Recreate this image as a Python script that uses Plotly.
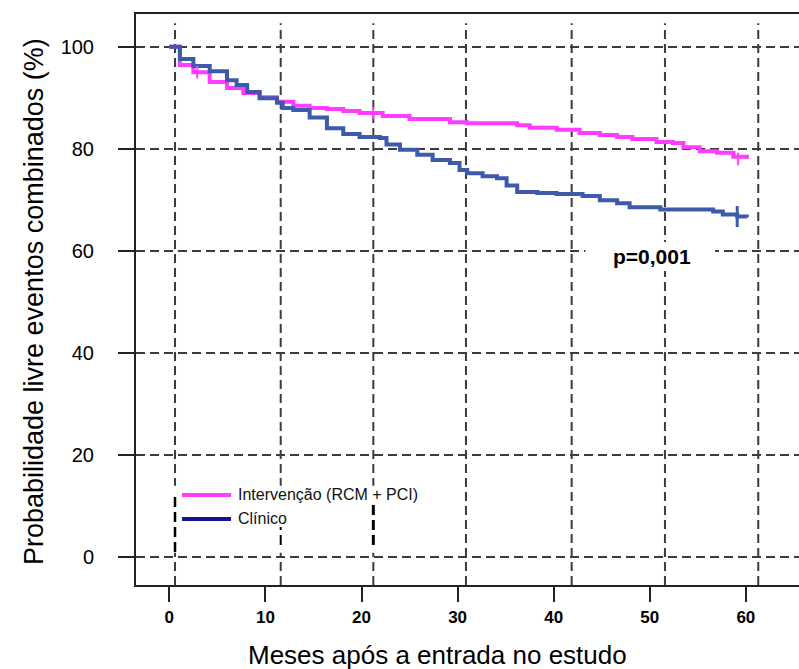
import plotly.graph_objects as go

# ---------------- data ----------------
interv_t = [0, 1.1, 2.5, 4.2, 6.0, 7.7, 9.4, 11.2, 12.9, 14.6, 16.4, 18.1, 19.8, 22.2,
            25.0, 29.2, 31.0, 36.2, 37.5, 40.3, 42.7, 44.8, 46.6, 48.2, 50.7, 52.4,
            53.5, 55.2, 57.0, 58.7, 60.1]
interv_s = [100, 96.4, 95.0, 93.1, 91.9, 90.9, 90.1, 89.2, 88.4, 88.0, 87.8, 87.4, 87.0,
            86.4, 85.8, 85.2, 85.0, 84.6, 84.1, 83.7, 83.1, 82.7, 82.3, 81.9, 81.3,
            81.1, 80.3, 79.5, 79.2, 78.4, 78.0]

clin_t = [0, 1.1, 2.5, 4.2, 6.0, 7.0, 8.1, 9.4, 11.2, 11.8, 12.9, 14.6, 16.4, 18.1,
          19.8, 21.9, 22.6, 24.0, 25.8, 27.4, 29.2, 30.2, 31.0, 32.6, 34.1, 35.1,
          36.2, 38.3, 40.3, 43.0, 44.8, 46.6, 47.9, 51.1, 56.6, 57.6, 59.1, 60.1]
clin_s = [100, 97.6, 96.2, 95.2, 93.4, 92.5, 91.1, 89.9, 89.0, 88.0, 87.6, 86.1, 84.0,
          82.9, 82.3, 82.1, 80.8, 79.8, 78.8, 77.8, 77.2, 75.8, 75.2, 74.6, 74.2, 72.8,
          71.5, 71.3, 71.1, 70.7, 69.9, 69.3, 68.5, 68.1, 67.7, 67.1, 66.7, 66.5]

interv_cens_t = [2.9, 21.2, 59.2]
interv_cens_s = [95.0, 87.0, 78.0]
clin_cens_t = [59.1]
clin_cens_s = [66.7]

x_ticks = [0, 10, 20, 30, 40, 50, 60]
y_ticks = [0, 20, 40, 60, 80, 100]

series_names = ["Intervenção (RCM + PCI)", "Clínico"]
x_title = "Meses após a entrada no estudo"
y_title = "Probabilidade livre eventos combinados (%)"
p_text = "p=0,001"

# ---------------- styling ----------------
PINK = "#FF3CFF"
BLUE = "#3D5AAB"
NAVY = "#14148C"
GRID = "#3c3c3c"
DASH = "9px,5px"

fig = go.Figure()
fig.add_trace(go.Scatter(x=interv_t, y=interv_s, mode="lines", line_shape="hv",
                         line=dict(color=PINK, width=4), showlegend=False,
                         name=series_names[0]))
fig.add_trace(go.Scatter(x=clin_t, y=clin_s, mode="lines", line_shape="hv",
                         line=dict(color=BLUE, width=4), showlegend=False,
                         name=series_names[1]))
fig.add_trace(go.Scatter(x=interv_cens_t, y=interv_cens_s, mode="markers",
                         marker=dict(symbol="line-ns", size=9,
                                     line=dict(color=PINK, width=2)),
                         showlegend=False, hoverinfo="skip"))
fig.add_trace(go.Scatter(x=clin_cens_t, y=clin_cens_s, mode="markers",
                         marker=dict(symbol="line-ns", size=15,
                                     line=dict(color=BLUE, width=3)),
                         showlegend=False, hoverinfo="skip"))

shapes = []
# vertical dashed grid (offset from ticks as in the reference)
vgrid_x = [0.59, 11.59, 21.23, 30.87, 41.87, 51.58, 61.29]
for gx in vgrid_x:
    shapes.append(dict(type="line", xref="x", yref="paper", x0=gx, x1=gx,
                       y0=0, y1=0.984, layer="between",
                       line=dict(color=GRID, width=2, dash=DASH)))
# white legend background
shapes.append(dict(type="rect", xref="x", yref="y", x0=0.1, x1=30.5, y0=0.75, y1=13.9,
                   fillcolor="white", line=dict(width=0), layer="between"))
# white box behind p-value
shapes.append(dict(type="rect", xref="x", yref="y", x0=43.3, x1=56.8, y0=56.0, y1=61.7,
                   fillcolor="white", line=dict(width=0), layer="between"))
# black dash artefacts in legend region
for gx, ya, yb, w in [(0.59, 0.9, 12.5, 2.5), (11.59, 2.3, 5.8, 2), (21.23, 2.3, 10.7, 3)]:
    shapes.append(dict(type="line", xref="x", yref="y", x0=gx, x1=gx, y0=ya, y1=yb,
                       layer="between", line=dict(color="black", width=w, dash="10px,5px")))
# legend line samples
shapes.append(dict(type="line", xref="x", yref="y", x0=1.32, x1=6.42, y0=12.1, y1=12.1,
                   line=dict(color=PINK, width=4), layer="above"))
shapes.append(dict(type="line", xref="x", yref="y", x0=1.32, x1=6.42, y0=7.4, y1=7.4,
                   line=dict(color=NAVY, width=4), layer="above"))

annotations = [
    dict(x=6.94, y=12.1, xref="x", yref="y", text=series_names[0], showarrow=False,
         xanchor="left", yanchor="middle", font=dict(family="Arial, Liberation Sans", size=16, color="#111")),
    dict(x=6.94, y=7.4, xref="x", yref="y", text=series_names[1], showarrow=False,
         xanchor="left", yanchor="middle", font=dict(family="Arial, Liberation Sans", size=16, color="#111")),
    dict(x=50.2, y=58.9, xref="x", yref="y", text="<b>" + p_text + "</b>", showarrow=False,
         xanchor="center", yanchor="middle", font=dict(family="Arial, Liberation Sans", size=21, color="black")),
    dict(x=0.4548, y=-0.1226, xref="paper", yref="paper", text=x_title, showarrow=False,
         xanchor="center", yanchor="middle", font=dict(family="Arial, Liberation Sans", size=26, color="black")),
    dict(x=-0.1538, y=0.4956, xref="paper", yref="paper", text=y_title, showarrow=False,
         textangle=-90, xanchor="center", yanchor="middle",
         font=dict(family="Arial, Liberation Sans", size=27, color="black")),
]

fig.update_layout(
    width=799, height=669,
    margin=dict(l=136, r=0, t=14, b=84),
    paper_bgcolor="white", plot_bgcolor="white",
    shapes=shapes, annotations=annotations,
    showlegend=False,
    xaxis=dict(range=[-3.47, 65.53], tickvals=x_ticks, ticktext=[str(v) for v in x_ticks],
               showgrid=False, zeroline=False,
               showline=True, linecolor="#222", linewidth=2, mirror=True,
               ticks="outside", ticklen=15, tickwidth=2, tickcolor="#222",
               ticklabelstandoff=1,
               tickfont=dict(family="Liberation Sans Narrow, Arial Narrow, Arial",
                             size=17, color="black", weight="bold")),
    yaxis=dict(range=[-5.55, 106.41], tickvals=y_ticks, ticktext=[str(v) for v in y_ticks],
               showgrid=True, gridcolor=GRID, gridwidth=2, griddash=DASH,
               zeroline=False,
               showline=True, linecolor="#222", linewidth=2, mirror=False,
               ticks="outside", ticklen=16, tickwidth=1.5, tickcolor="#222",
               ticklabelstandoff=20,
               tickfont=dict(family="Arial, Liberation Sans", size=20, color="black")),
)

fig.write_html("out.html")
